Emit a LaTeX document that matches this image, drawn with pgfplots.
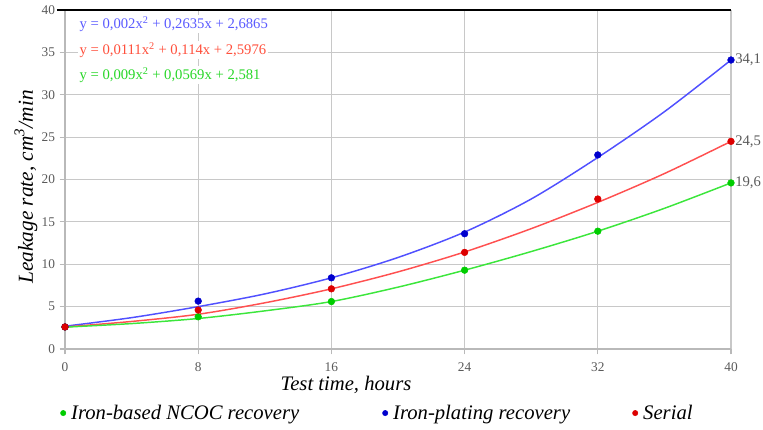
\documentclass[border=0pt]{standalone}
\usepackage{fontspec}
\setmainfont{Liberation Serif}
\usepackage{pgfplots}
\pgfplotsset{compat=1.18}
\definecolor{bline}{RGB}{80,80,255}
\definecolor{bmark}{RGB}{0,0,205}
\definecolor{rline}{RGB}{255,80,80}
\definecolor{rmark}{RGB}{220,0,0}
\definecolor{gline}{RGB}{60,230,60}
\definecolor{gmark}{RGB}{0,205,0}
\definecolor{beq}{RGB}{90,90,255}
\definecolor{req}{RGB}{255,80,60}
\definecolor{geq}{RGB}{40,215,40}
\definecolor{gridc}{RGB}{200,200,200}
\definecolor{tickc}{RGB}{90,90,90}
\pgfplotsset{dotlegend/.style={legend image code/.code={\draw[##1, mark size=2pt] plot coordinates {(0pt,0pt)};}}}
\begin{document}
\begin{tikzpicture}
\useasboundingbox (-48.75pt,-60pt) rectangle (523.5pt,261.75pt);
\begin{axis}[
  scale only axis,
  width=499.5pt, height=254.25pt,
  xmin=0, xmax=40, ymin=0, ymax=40,
  xtick={0,8,16,24,32,40},
  ytick={0,5,...,40},
  grid=major,
  major grid style={gridc, line width=0.9pt},
  axis lines=left,
  axis line style={-, gridc!80!gray, line width=0.9pt},
  tick align=outside,
  major tick length=4pt,
  tick style={gridc!80!gray, line width=0.8pt},
  /pgf/number format/assume math mode=true,
  ticklabel style={font=\fontsize{10}{10}\selectfont, text=tickc},
  xticklabel style={yshift=-2.5pt},
  clip=false,
  xlabel={\textit{Test time, hours}},
  xlabel style={at={(rel axis cs:0.422,-0.106)}, anchor=center, font=\fontsize{15.5}{16}\selectfont},
  ylabel={\textit{Leakage rate, cm\textsuperscript{3}/min}},
  ylabel style={at={(rel axis cs:-0.0586,0.478)}, anchor=center, font=\fontsize{16}{16}\selectfont},
  legend columns=3,
  legend style={at={(rel axis cs:-0.0071,-0.189)}, anchor=west, draw=none, fill=none,
    inner sep=0pt, column sep=4pt, font=\itshape\fontsize{15.5}{16}\selectfont,
    nodes={inner xsep=0pt}},
  legend cell align=left,
]
% trend curves
\addplot[bline, line width=1.1pt, smooth, forget plot] coordinates {
 (0,2.69) (4,3.7) (8,5.0) (12,6.5) (16,8.4) (20,10.8) (24,13.8) (28,17.7) (32,22.6) (36,28.0) (40,34.1)};
\addplot[rline, line width=1.1pt, smooth, forget plot] coordinates {
 (0,2.6) (4,3.25) (8,4.1) (12,5.45) (16,7.1) (20,9.1) (24,11.45) (28,14.2) (32,17.3) (36,20.7) (40,24.5)};
\addplot[gline, line width=1.1pt, smooth, forget plot] coordinates {
 (0,2.58) (4,3.0) (8,3.6) (12,4.5) (16,5.6) (20,7.3) (24,9.3) (28,11.5) (32,13.9) (36,16.6) (40,19.6)};
% data points
\addplot[only marks, mark=*, mark size=2.5pt, color=gmark, dotlegend] coordinates {
 (0,2.6) (8,3.8) (16,5.6) (24,9.3) (32,13.9) (40,19.6)};
\addlegendentry{\makebox[229.5pt][l]{Iron-based NCOC recovery}}
\addplot[only marks, mark=*, mark size=2.5pt, color=bmark, dotlegend] coordinates {
 (0,2.6) (8,5.65) (16,8.4) (24,13.6) (32,22.9) (40,34.1)};
\addlegendentry{\makebox[175.5pt][l]{Iron-plating recovery}}
\addplot[only marks, mark=*, mark size=2.5pt, color=rmark, dotlegend] coordinates {
 (0,2.6) (8,4.6) (16,7.1) (24,11.4) (32,17.7) (40,24.5)};
\addlegendentry{Serial}
% top border line
\draw[black, line width=1.5pt] (axis cs:0,40) ++(-6pt,0) -- (axis cs:40,40);
% end values
\node[anchor=west, text=tickc, font=\fontsize{11}{11}\selectfont, inner sep=0pt, xshift=3pt] at (axis cs:40,34.1) {34,1};
\node[anchor=west, text=tickc, font=\fontsize{11}{11}\selectfont, inner sep=0pt, xshift=3pt] at (axis cs:40,24.5) {24,5};
\node[anchor=west, text=tickc, font=\fontsize{11}{11}\selectfont, inner sep=0pt, xshift=3pt] at (axis cs:40,19.6) {19,6};
% equations
\node[anchor=west, text=beq, fill=white, inner sep=1pt, font=\fontsize{11}{11}\selectfont] at (rel axis cs:0.0195,0.9587) {y = 0,002x\textsuperscript{2} + 0,2635x + 2,6865};
\node[anchor=west, text=req, fill=white, inner sep=1pt, font=\fontsize{11}{11}\selectfont] at (rel axis cs:0.0195,0.882) {y = 0,0111x\textsuperscript{2} + 0,114x + 2,5976};
\node[anchor=west, text=geq, fill=white, inner sep=1pt, font=\fontsize{11}{11}\selectfont] at (rel axis cs:0.0195,0.808) {y = 0,009x\textsuperscript{2} + 0,0569x + 2,581};
\end{axis}
\end{tikzpicture}
\end{document}
